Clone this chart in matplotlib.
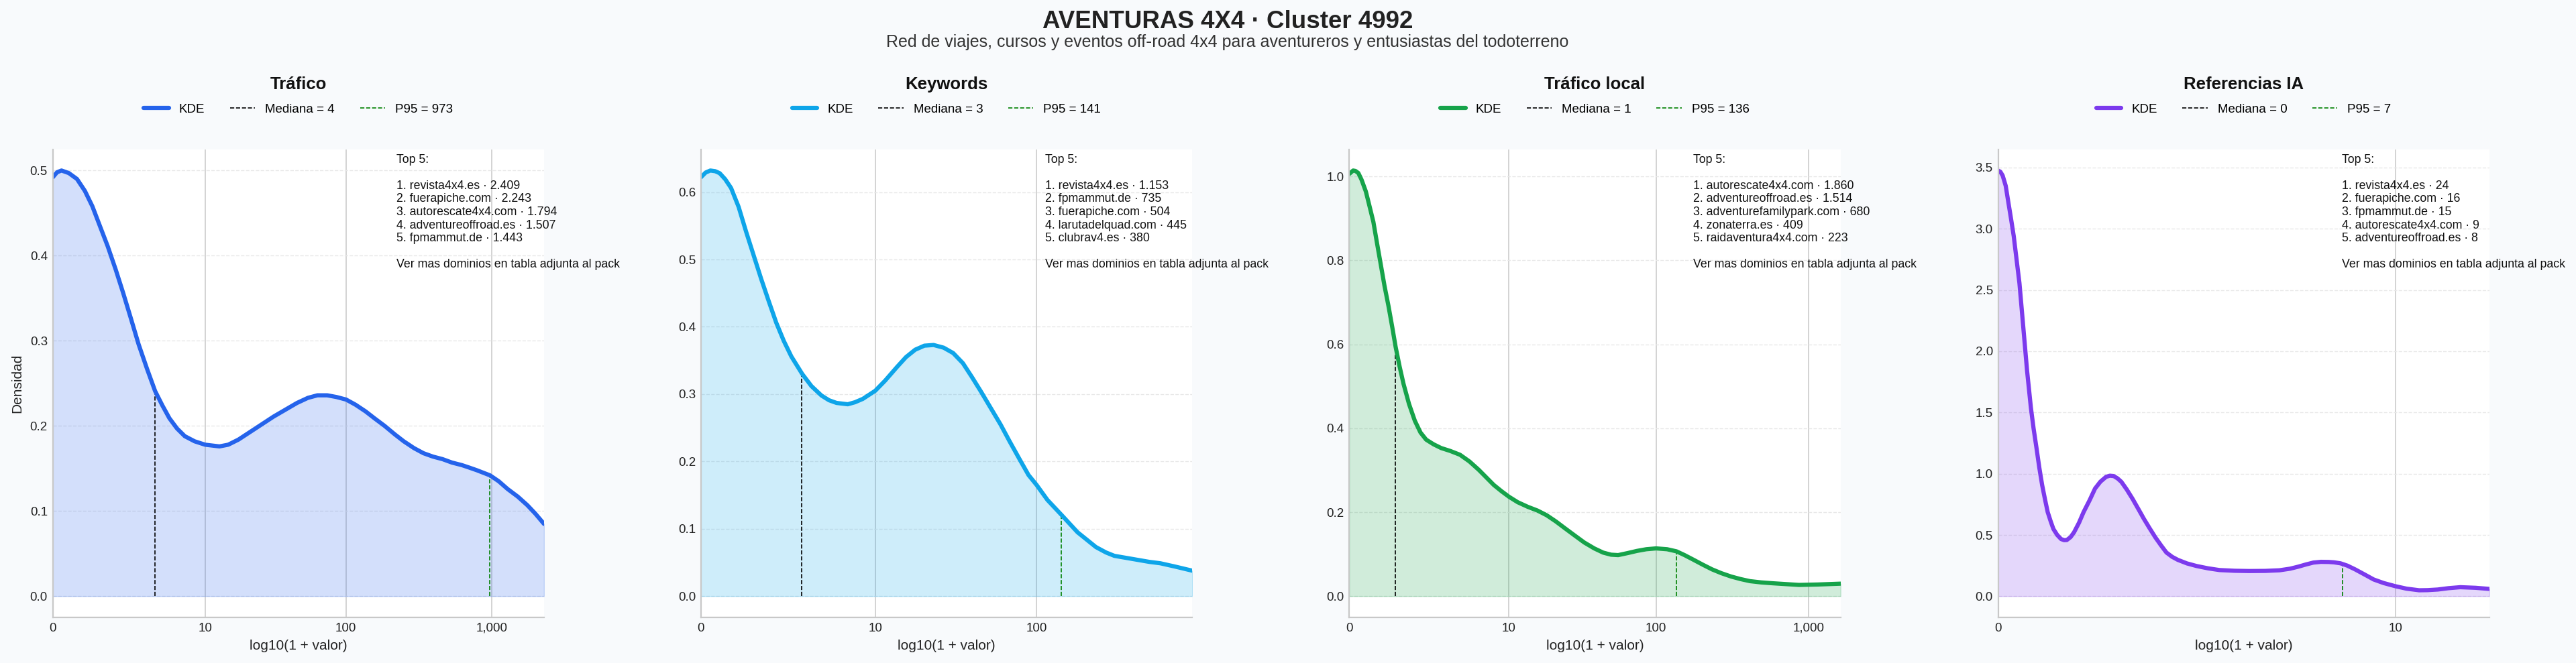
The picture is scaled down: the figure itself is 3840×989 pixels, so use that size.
import numpy as np
import matplotlib
matplotlib.use("Agg")
import matplotlib.pyplot as plt
from matplotlib.lines import Line2D

plt.rcParams['font.family'] = ['Liberation Sans', 'DejaVu Sans']

# ---------------- data ----------------
TITLE = "AVENTURAS 4X4 · Cluster 4992"
SUBTITLE = "Red de viajes, cursos y eventos off\u2011road 4x4 para aventureros y entusiastas del todoterreno"

panel_titles = ["Tráfico", "Keywords", "Tráfico local", "Referencias IA"]
colors = ["#2563eb", "#0ea5e9", "#16a34a", "#7c3aed"]
medians = [4, 3, 1, 0]
p95s = [973, 141, 136, 7]
x_max = [3.359, 2.935, 3.209, 1.287]          # log10(1 + valor) axis end
tick_values = [[0, 10, 100, 1000], [0, 10, 100], [0, 10, 100, 1000], [0, 10]]
tick_labels = [["0", "10", "100", "1,000"], ["0", "10", "100"],
               ["0", "10", "100", "1,000"], ["0", "10"]]

top5_traffic = ["revista4x4.es · 2.409", "fuerapiche.com · 2.243", "autorescate4x4.com · 1.794",
                "adventureoffroad.es · 1.507", "fpmammut.de · 1.443"]
top5_keywords = ["revista4x4.es · 1.153", "fpmammut.de · 735", "fuerapiche.com · 504",
                 "larutadelquad.com · 445", "clubrav4.es · 380"]
top5_local = ["autorescate4x4.com · 1.860", "adventureoffroad.es · 1.514",
              "adventurefamilypark.com · 680", "zonaterra.es · 409", "raidaventura4x4.com · 223"]
top5_ia = ["revista4x4.es · 24", "fuerapiche.com · 16", "fpmammut.de · 15",
           "autorescate4x4.com · 9", "adventureoffroad.es · 8"]
top5_lists = [top5_traffic, top5_keywords, top5_local, top5_ia]

# KDE curves (x = log10(1 + valor), y = densidad)
kde_x_traffic = [0.0, 0.03, 0.06, 0.11, 0.166, 0.22, 0.271, 0.32, 0.376, 0.43, 0.482, 0.535,
                 0.587, 0.645, 0.700, 0.75, 0.798, 0.85, 0.903, 0.97, 1.042, 1.14, 1.20, 1.27,
                 1.35, 1.43, 1.51, 1.59, 1.67, 1.745, 1.81, 1.877, 1.94, 2.006, 2.07, 2.14,
                 2.20, 2.27, 2.34, 2.40, 2.47, 2.535, 2.60, 2.666, 2.73, 2.798, 2.85, 2.90,
                 2.99, 3.05, 3.11, 3.18, 3.245, 3.30, 3.359]
kde_y_traffic = [0.492, 0.498, 0.500, 0.497, 0.490, 0.476, 0.458, 0.436, 0.411, 0.384, 0.356, 0.326,
                 0.296, 0.267, 0.241, 0.224, 0.209, 0.197, 0.188, 0.182, 0.178, 0.176, 0.178, 0.184,
                 0.193, 0.202, 0.211, 0.219, 0.227, 0.233, 0.236, 0.236, 0.234, 0.231, 0.225, 0.217,
                 0.209, 0.200, 0.190, 0.182, 0.174, 0.168, 0.164, 0.161, 0.157, 0.154, 0.151, 0.148,
                 0.142, 0.135, 0.126, 0.117, 0.107, 0.097, 0.085]

kde_x_keywords = [0.0, 0.028, 0.056, 0.085, 0.112, 0.145, 0.18, 0.225, 0.27, 0.315, 0.36, 0.405,
                  0.45, 0.495, 0.54, 0.605, 0.66, 0.72, 0.765, 0.81, 0.877, 0.92, 0.967, 1.041,
                  1.10, 1.17, 1.225, 1.28, 1.335, 1.39, 1.45, 1.507, 1.565, 1.62, 1.675, 1.73,
                  1.79, 1.844, 1.90, 1.957, 2.006, 2.07, 2.157, 2.25, 2.31, 2.36, 2.42, 2.47,
                  2.54, 2.61, 2.68, 2.744, 2.834, 2.935]
kde_y_keywords = [0.622, 0.629, 0.632, 0.631, 0.628, 0.619, 0.606, 0.578, 0.541, 0.506, 0.471, 0.438,
                  0.406, 0.379, 0.356, 0.330, 0.312, 0.298, 0.291, 0.287, 0.285, 0.288, 0.293, 0.305,
                  0.320, 0.340, 0.355, 0.366, 0.372, 0.373, 0.369, 0.361, 0.346, 0.325, 0.303, 0.280,
                  0.255, 0.230, 0.205, 0.180, 0.165, 0.143, 0.120, 0.095, 0.083, 0.073, 0.065, 0.060,
                  0.057, 0.054, 0.051, 0.049, 0.044, 0.038]

kde_x_local = [0.0, 0.025, 0.04, 0.059, 0.08, 0.108, 0.13, 0.157, 0.18, 0.207, 0.23, 0.256,
               0.28, 0.3025, 0.328, 0.354, 0.39, 0.428, 0.465, 0.502, 0.55, 0.60, 0.66, 0.723,
               0.785, 0.846, 0.895, 0.944, 0.995, 1.043, 1.10, 1.166, 1.23, 1.289, 1.35, 1.412,
               1.475, 1.535, 1.60, 1.658, 1.71, 1.756, 1.82, 1.879, 1.94, 2.004, 2.076, 2.137,
               2.19, 2.248, 2.31, 2.37, 2.43, 2.494, 2.555, 2.617, 2.69, 2.764, 2.85, 2.937,
               3.06, 3.209]
kde_y_local = [1.006, 1.014, 1.013, 1.008, 0.992, 0.964, 0.932, 0.892, 0.843, 0.787, 0.739, 0.691,
               0.642, 0.594, 0.548, 0.506, 0.458, 0.418, 0.390, 0.373, 0.362, 0.353, 0.346, 0.337,
               0.321, 0.301, 0.283, 0.265, 0.250, 0.237, 0.224, 0.213, 0.204, 0.193, 0.178, 0.161,
               0.144, 0.128, 0.114, 0.104, 0.099, 0.098, 0.103, 0.108, 0.112, 0.114, 0.112, 0.107,
               0.098, 0.087, 0.075, 0.064, 0.055, 0.047, 0.041, 0.036, 0.033, 0.031, 0.029, 0.027,
               0.028, 0.030]

kde_x_ia = [0.0, 0.006, 0.012, 0.02, 0.027, 0.034, 0.041, 0.048, 0.056, 0.066, 0.076, 0.086,
            0.093, 0.1007, 0.108, 0.1155, 0.123, 0.130, 0.138, 0.145, 0.155, 0.165, 0.173, 0.18,
            0.19, 0.199, 0.212, 0.224, 0.24, 0.254, 0.268, 0.283, 0.293, 0.303, 0.313, 0.323,
            0.337, 0.352, 0.367, 0.382, 0.397, 0.412, 0.427, 0.441, 0.456, 0.471, 0.495, 0.52,
            0.55, 0.58, 0.62, 0.658, 0.70, 0.737, 0.765, 0.787, 0.806, 0.826, 0.846, 0.866,
            0.88, 0.897, 0.915, 0.935, 0.96, 0.984, 1.01, 1.041, 1.07, 1.103, 1.125, 1.152,
            1.18, 1.211, 1.251, 1.287]
kde_y_ia = [3.475, 3.465, 3.434, 3.35, 3.214, 3.08, 2.94, 2.76, 2.555, 2.198, 1.84, 1.538,
            1.37, 1.209, 1.05, 0.907, 0.79, 0.687, 0.61, 0.549, 0.50, 0.467, 0.458, 0.459,
            0.483, 0.522, 0.600, 0.687, 0.785, 0.879, 0.935, 0.975, 0.984, 0.981, 0.962, 0.934,
            0.872, 0.797, 0.715, 0.632, 0.555, 0.481, 0.415, 0.357, 0.322, 0.297, 0.268, 0.247,
            0.228, 0.214, 0.208, 0.206, 0.207, 0.212, 0.225, 0.242, 0.259, 0.275, 0.281, 0.280,
            0.277, 0.269, 0.250, 0.220, 0.178, 0.137, 0.108, 0.082, 0.062, 0.049, 0.050, 0.055,
            0.066, 0.074, 0.069, 0.060]

kde_xs = [kde_x_traffic, kde_x_keywords, kde_x_local, kde_x_ia]
kde_ys = [kde_y_traffic, kde_y_keywords, kde_y_local, kde_y_ia]

# ---------------- figure ----------------
W, H = 3840, 989
fig = plt.figure(figsize=(W / 100, H / 100), dpi=100, facecolor="#f8fafc")

ax_lefts = [78.6, 1044.9, 2011.4, 2978.5]
ax_w, ax_top, ax_bottom = 732.3, 222.6, 921.2
ax_h = ax_bottom - ax_top

fig.text(1830 / W, 1 - 41.7 / H, TITLE, ha="center", va="baseline",
         fontsize=26.5, fontweight="bold", color="#222222")
fig.text(1830 / W, 1 - 70 / H, SUBTITLE, ha="center", va="baseline",
         fontsize=18, color="#333333")

for i in range(4):
    ax = fig.add_axes([ax_lefts[i] / W, (H - ax_bottom) / H, ax_w / W, ax_h / H])
    ax.set_facecolor("white")
    c = colors[i]
    xs = np.array(kde_xs[i])
    ys = np.array(kde_ys[i])

    ax.fill_between(xs, 0, ys, color=c, alpha=0.2, lw=1)
    ax.plot(xs, ys, color=c, lw=4.5, solid_joinstyle="round", solid_capstyle="round", zorder=3)

    xm = np.log10(1 + medians[i])
    xp = np.log10(1 + p95s[i])
    ax.vlines(xm, 0, np.interp(xm, xs, ys), colors="black", linestyles="--", lw=1.2, zorder=2)
    ax.vlines(xp, 0, np.interp(xp, xs, ys), colors="green", linestyles="--", lw=1.2, zorder=2)

    ax.set_xlim(0, x_max[i])
    ticks = [np.log10(1 + v) for v in tick_values[i]]
    ax.set_xticks(ticks)
    ax.set_xticklabels(tick_labels[i])

    ax.xaxis.grid(True, color="#cccccc", lw=1.2, ls="-")
    ax.yaxis.grid(True, color="#e8e8e8", lw=1.0, ls="--")
    ax.set_axisbelow(True)

    for s in ["top", "right"]:
        ax.spines[s].set_visible(False)
    for s in ["left", "bottom"]:
        ax.spines[s].set_color("#c8c8c8")
        ax.spines[s].set_linewidth(1.6)
        ax.spines[s].set_zorder(4)
    ax.tick_params(length=0, pad=5.5, labelsize=13.5, labelcolor="#222222")

    ax.set_xlabel("log10(1 + valor)", fontsize=15, color="#222222", labelpad=6)
    if i == 0:
        ax.set_ylabel("Densidad", fontsize=15, color="#222222", labelpad=7)

    ax.text(0.5, 1 + (ax_top - 132.7) / ax_h, panel_titles[i], transform=ax.transAxes,
            ha="center", va="baseline", fontsize=18.5, fontweight="bold", color="#111111")

    handles = [Line2D([0], [0], color=c, lw=4.5, solid_capstyle="round"),
               Line2D([0], [0], color="black", lw=1.2, ls="--"),
               Line2D([0], [0], color="green", lw=1.2, ls="--")]
    labels = ["KDE", f"Mediana = {medians[i]}", f"P95 = {p95s[i]}"]
    ax.legend(handles, labels, ncol=3, frameon=False, fontsize=13.5, loc="center",
              bbox_to_anchor=(0.5, 1 + (ax_top - 163) / ax_h))

    lines = ["Top 5:", ""] + [f"{k + 1}. {d}" for k, d in enumerate(top5_lists[i])] + \
            ["", "Ver mas dominios en tabla adjunta al pack"]
    ax.text(0.70, 0.99, "\n".join(lines), transform=ax.transAxes, ha="left", va="top",
            fontsize=12.8, color="#111111", clip_on=False, zorder=5)

fig.savefig("out.png", dpi=100, facecolor=fig.get_facecolor())
